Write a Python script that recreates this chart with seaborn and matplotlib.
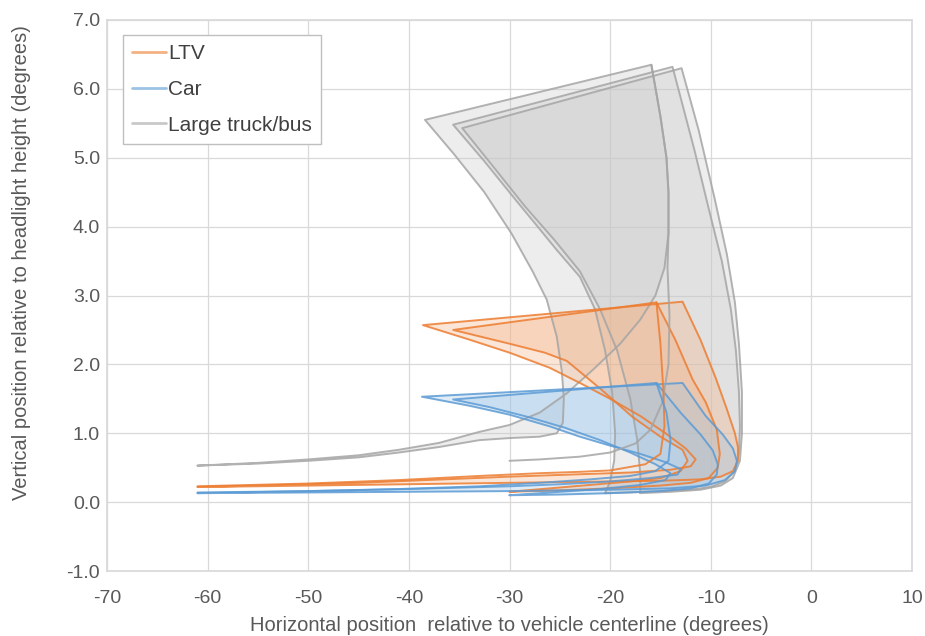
import matplotlib
matplotlib.use("Agg")
import matplotlib.pyplot as plt
import seaborn as sns
from matplotlib.lines import Line2D

# ---- data (degrees) ----
# Large truck/bus outlines
truck_a_x = [-61, -55, -50, -45, -41, -37, -33, -30, -27, -24.3, -21.5, -19, -17, -15.5, -14.6, -14.2, -14.2, -14.4, -15, -15.9,
             -38.4, -35.5, -32.5, -29.8, -27.7, -26.3, -25.3, -24.8, -24.6, -24.7, -25.3, -27, -30, -33, -37, -41, -45, -50, -55, -61]
truck_a_y = [0.53, 0.57, 0.62, 0.68, 0.76, 0.86, 1.02, 1.12, 1.3, 1.58, 1.95, 2.3, 2.65, 3.0, 3.4, 3.9, 4.5, 5.0, 5.6, 6.35,
             5.55, 5.05, 4.5, 3.9, 3.35, 2.94, 2.4, 1.9, 1.5, 1.15, 1.0, 0.95, 0.93, 0.9, 0.8, 0.72, 0.65, 0.6, 0.56, 0.53]
truck_b_x = [-20.5, -18, -15, -12, -10, -8.6, -7.6, -7.2, -7.1, -7.2, -7.5, -8.0, -8.9, -10.1, -11.6, -13.8,
             -35.6, -32.5, -29.4, -27.2, -25.3, -23, -21.5, -20.5, -19.8, -19.5, -19.6, -20, -20.5]
truck_b_y = [0.13, 0.14, 0.16, 0.18, 0.22, 0.3, 0.45, 0.7, 1.1, 1.6, 2.2, 2.8, 3.5, 4.2, 5.1, 6.32,
             5.48, 4.95, 4.39, 4.0, 3.66, 3.27, 2.8, 2.2, 1.6, 1.0, 0.6, 0.3, 0.13]
truck_c_x = [-17, -14, -11, -9, -7.8, -7.1, -6.9, -6.9, -7.2, -7.6, -8.4, -9.6, -11.2, -12.9,
             -34.7, -31.5, -28.5, -25.5, -23, -21, -19.3, -18, -17.3, -17, -17]
truck_c_y = [0.13, 0.15, 0.18, 0.24, 0.35, 0.6, 1.0, 1.6, 2.3, 2.9, 3.6, 4.4, 5.4, 6.30,
             5.43, 4.85, 4.3, 3.8, 3.35, 2.8, 2.2, 1.5, 0.9, 0.4, 0.13]
truck_d_x = [-15.9, -15, -14.4, -14.2, -14.2, -14.3, -14.1, -14.2, -14.8, -16, -17.5, -20, -23, -27, -30]
truck_d_y = [6.35, 5.6, 5.0, 4.5, 3.9, 3.4, 2.7, 2.0, 1.45, 1.05, 0.85, 0.72, 0.66, 0.62, 0.6]

# LTV outlines
ltv_a_x = [-61, -55, -50, -45, -40, -35, -30, -25, -20, -15, -11, -9, -7.8, -7.3, -7.3, -7.6, -8.4, -9.5, -11, -12.8,
           -38.6, -34, -30, -26, -23, -20, -17, -14.5, -12.5, -11.5, -12, -14, -18, -22, -26, -30, -35, -40, -45, -50, -55, -61]
ltv_a_y = [0.22, 0.23, 0.24, 0.25, 0.26, 0.27, 0.28, 0.29, 0.3, 0.31, 0.33, 0.37, 0.45, 0.6, 0.8, 1.0, 1.35, 1.8, 2.35, 2.91,
           2.57, 2.36, 2.17, 1.95, 1.73, 1.5, 1.25, 1.0, 0.78, 0.62, 0.52, 0.47, 0.43, 0.41, 0.39, 0.37, 0.34, 0.31, 0.28, 0.26, 0.24, 0.22]
ltv_b_x = [-30, -25, -20, -15, -12, -10.2, -9.3, -9.1, -9.4, -10.5, -11.8, -13.5, -15.4,
           -35.6, -30, -26.5, -24.3, -21, -17.8, -15, -12.8, -12.3, -13, -15, -18, -22, -26, -30]
ltv_b_y = [0.15, 0.17, 0.2, 0.24, 0.28, 0.35, 0.5, 0.7, 1.05, 1.45, 1.78, 2.35, 2.9,
           2.5, 2.3, 2.17, 2.05, 1.65, 1.24, 0.95, 0.76, 0.6, 0.45, 0.35, 0.3, 0.25, 0.2, 0.15]
ltv_c_x = [-61, -50, -41, -33, -27, -23, -20, -16.5, -15, -14.6, -14.7, -15.0, -15.4]
ltv_c_y = [0.23, 0.27, 0.32, 0.38, 0.42, 0.44, 0.46, 0.55, 0.7, 1.1, 1.6, 2.3, 2.9]

# Car outlines
car_a_x = [-61, -50, -40, -30, -20, -14, -10.5, -8.6, -7.6, -7.4, -7.8, -8.8, -10.5, -12.8,
           -38.7, -34, -30, -26, -23, -20, -17, -14.5, -13, -13.3, -16, -20, -25, -30, -40, -50, -61]
car_a_y = [0.13, 0.14, 0.15, 0.16, 0.18, 0.2, 0.24, 0.32, 0.45, 0.6, 0.78, 0.98, 1.25, 1.73,
           1.53, 1.4, 1.27, 1.1, 0.95, 0.82, 0.7, 0.58, 0.48, 0.4, 0.35, 0.3, 0.26, 0.23, 0.19, 0.16, 0.13]
car_b_x = [-30, -25, -20, -15, -12, -10.2, -9.4, -9.3, -9.8, -11, -13, -15.4,
           -35.6, -32, -28, -24.5, -21, -18, -15.5, -14, -14.5, -17, -21, -25, -30]
car_b_y = [0.1, 0.11, 0.13, 0.16, 0.2, 0.27, 0.4, 0.55, 0.75, 0.98, 1.3, 1.73,
           1.49, 1.38, 1.23, 1.08, 0.9, 0.72, 0.55, 0.42, 0.32, 0.25, 0.19, 0.15, 0.1]
car_c_x = [-61, -50, -41, -33, -27, -22, -18, -15.5, -14.2, -14, -14.4, -15.4]
car_c_y = [0.14, 0.16, 0.19, 0.23, 0.28, 0.33, 0.38, 0.45, 0.6, 0.9, 1.3, 1.73]

labels = ["LTV", "Car", "Large truck/bus"]
x_ticks = [-70, -60, -50, -40, -30, -20, -10, 0, 10]
y_ticks = [-1, 0, 1, 2, 3, 4, 5, 6, 7]

line_col = {"LTV": "#ed7d31", "Car": "#5b9bd5", "Large truck/bus": "#a5a5a5"}
fill_col = {"LTV": "#f4b183", "Car": "#9dc3e6", "Large truck/bus": "#c9c9c9"}

sns.set_theme(style="whitegrid")
plt.rcParams['font.family'] = ['Liberation Sans', 'DejaVu Sans']

fig = plt.figure(figsize=(9.25, 6.36), dpi=100)
ax = fig.add_axes([107/925, 1 - 571/636, (912 - 107)/925, (571 - 20)/636])

closed = [
    ("Large truck/bus", truck_a_x, truck_a_y),
    ("Large truck/bus", truck_b_x, truck_b_y),
    ("Large truck/bus", truck_c_x, truck_c_y),
    ("LTV", ltv_a_x, ltv_a_y),
    ("LTV", ltv_b_x, ltv_b_y),
    ("Car", car_a_x, car_a_y),
    ("Car", car_b_x, car_b_y),
]
open_lines = [
    ("Large truck/bus", truck_d_x, truck_d_y),
    ("LTV", ltv_c_x, ltv_c_y),
    ("Car", car_c_x, car_c_y),
]

for kind, xs, ys in closed:
    ax.fill(xs, ys, color=fill_col[kind], alpha=0.32, lw=0, zorder=2)
for kind, xs, ys in closed + open_lines:
    sns.lineplot(x=xs, y=ys, sort=False, estimator=None, color=line_col[kind],
                 lw=1.4, alpha=0.85, ax=ax, zorder=3)

ax.set_xlim(-70, 10)
ax.set_ylim(-1, 7)
ax.set_xticks(x_ticks)
ax.set_yticks(y_ticks)
ax.set_xticklabels([str(v) for v in x_ticks])
ax.set_yticklabels(["{:.1f}".format(v) for v in y_ticks])
ax.grid(True, color="#d9d9d9", lw=0.9)
for s in ax.spines.values():
    s.set_color("#d9d9d9")
ax.tick_params(axis="both", labelsize=14, labelcolor="#595959", length=0)
ax.tick_params(axis="x", pad=14)
ax.tick_params(axis="y", pad=5)
ax.set_xlabel("Horizontal position  relative to vehicle centerline (degrees)", fontsize=14.5, color="#595959")
ax.set_ylabel("Vertical position relative to headlight height (degrees)", fontsize=14.5, color="#595959")
ax.xaxis.set_label_coords(0.5, -0.082)
ax.yaxis.set_label_coords(-0.095, 0.56)

handles = [Line2D([0], [0], color=line_col[k], lw=2, alpha=0.6) for k in labels]
leg = ax.legend(handles, labels, loc="upper left", bbox_to_anchor=(0.02, 0.973), borderaxespad=0,
                fontsize=15, frameon=True, fancybox=False, framealpha=1, edgecolor="#bfbfbf",
                handlelength=1.6, handletextpad=0.1, labelspacing=0.8, borderpad=0.45)
for t in leg.get_texts():
    t.set_color("#404040")

fig.savefig("out.png", dpi=100)
